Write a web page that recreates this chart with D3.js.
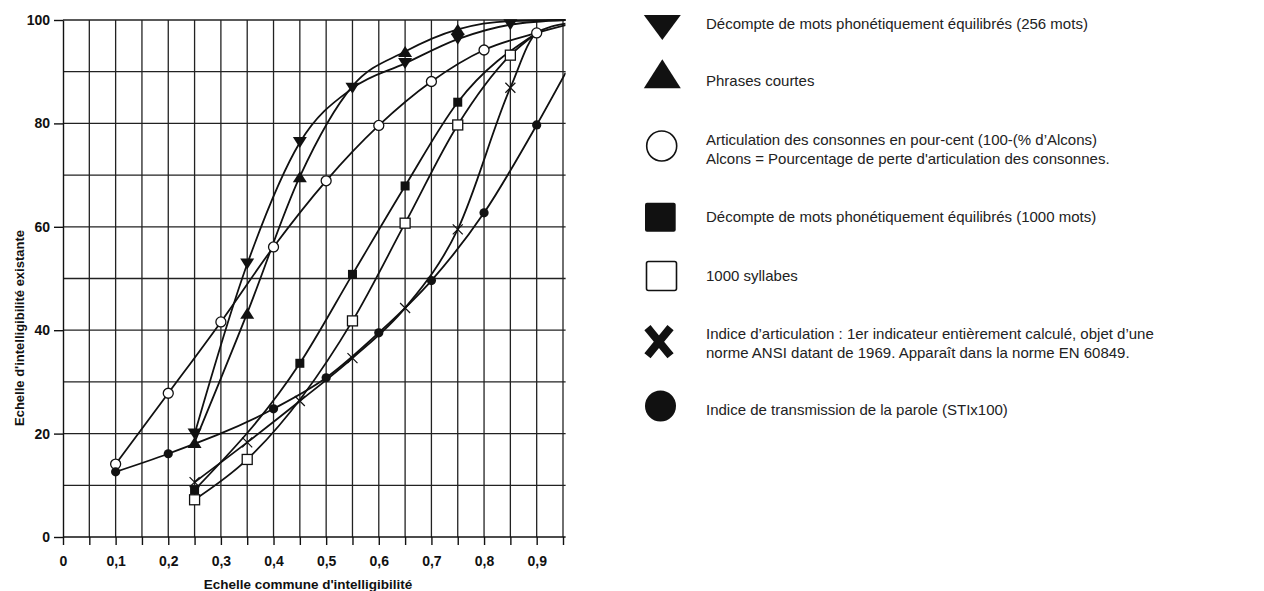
<!DOCTYPE html>
<html><head><meta charset="utf-8">
<script src="https://cdn.jsdelivr.net/npm/d3@7"></script>
<style>
html,body{margin:0;padding:0;background:#fff;}
svg{display:block;font-family:"Liberation Sans",Arial,sans-serif;}
</style></head>
<body>
<svg id="chart" width="1264" height="591"></svg>
<script>
// ---------- DATA ----------
const xTicks = [0,0.05,0.1,0.15,0.2,0.25,0.3,0.35,0.4,0.45,0.5,0.55,0.6,0.65,0.7,0.75,0.8,0.85,0.9,0.95];
const yTicks = [0,20,40,60,80,100];
const yGrid = [10,20,30,40,50,60,70,80,90,100];
const xTitle = "Echelle commune d'intelligibilité";
const yTitle = "Echelle d'intelligibilité existante";

// Décompte de mots phonétiquement équilibrés (256 mots) – down triangles
const mots256X = [0.25,0.35,0.45,0.55,0.65,0.75,0.85];
const mots256Y = [19.9,52.8,76.3,86.8,91.6,96.3,99.1];
const mots256LineX = [0.955];
const mots256LineY = [100];

// Phrases courtes – up triangles
const phrasesX = [0.25,0.35,0.45,0.65,0.75];
const phrasesY = [18.3,43.3,69.7,93.9,98.2];
const phrasesLineX = [0.55,0.85,0.955];
const phrasesLineY = [87.2,99.8,100];

// Articulation des consonnes – open circles
const consX = [0.1,0.2,0.3,0.4,0.5,0.6,0.7,0.8,0.9];
const consY = [14.1,27.8,41.6,56.1,68.9,79.6,88.1,94.2,97.5];
const consLineX = [0.955];
const consLineY = [99];

// Décompte de mots (1000 mots) – filled squares
const mots1000X = [0.25,0.45,0.55,0.65,0.75];
const mots1000Y = [9.1,33.6,50.8,67.9,84.1];
const mots1000LineX = [0.9];
const mots1000LineY = [97.5];

// 1000 syllabes – open squares
const syllX = [0.25,0.35,0.55,0.65,0.75,0.85];
const syllY = [7.2,15,41.8,60.7,79.7,93.2];
const syllLineX = [0.9];
const syllLineY = [97.5];

// Indice d'articulation – crosses
const artX = [0.25,0.35,0.45,0.55,0.65,0.75,0.85];
const artY = [10.6,18.3,26.3,34.6,44.3,59.5,86.9];
const artLineX = [0.9,0.955];
const artLineY = [97.5,99.3];

// STI x100 – filled circles
const stiX = [0.1,0.2,0.4,0.5,0.6,0.7,0.8,0.9];
const stiY = [12.6,16.1,24.8,30.8,39.5,49.6,62.7,79.7];
const stiLineX = [0.955];
const stiLineY = [89.8];

const legendLabels = [
  ["Décompte de mots phonétiquement équilibrés (256 mots)"],
  ["Phrases courtes"],
  ["Articulation des consonnes en pour-cent (100-(% d’Alcons)","Alcons = Pourcentage de perte d'articulation des consonnes."],
  ["Décompte de mots phonétiquement équilibrés (1000 mots)"],
  ["1000 syllabes"],
  ["Indice d’articulation : 1er indicateur entièrement calculé, objet d’une","norme ANSI datant de 1969. Apparaît dans la norme EN 60849."],
  ["Indice de transmission de la parole (STIx100)"]
];

// ---------- BUILD ----------
function zip(xs, ys){ return xs.map((x,i)=>({x, y: ys[i]})); }
const series = [
  {m:"down",   pts: zip(mots256X,mots256Y),  extra: zip(mots256LineX,mots256LineY)},
  {m:"up",     pts: zip(phrasesX,phrasesY),  extra: zip(phrasesLineX,phrasesLineY)},
  {m:"ocirc",  pts: zip(consX,consY),        extra: zip(consLineX,consLineY)},
  {m:"fsq",    pts: zip(mots1000X,mots1000Y),extra: zip(mots1000LineX,mots1000LineY)},
  {m:"osq",    pts: zip(syllX,syllY),        extra: zip(syllLineX,syllLineY)},
  {m:"cross",  pts: zip(artX,artY),          extra: zip(artLineX,artLineY)},
  {m:"fcirc",  pts: zip(stiX,stiY),          extra: zip(stiLineX,stiLineY)}
];

const svg = d3.select("#chart");
const x = d3.scaleLinear().domain([0,0.95]).range([63,563]);
const y = d3.scaleLinear().domain([0,100]).range([537,20]);
const xEnd = 0.955;
const gridColor = "#222";

// grid
const g = svg.append("g");
g.selectAll(".vg").data(xTicks.filter(d=>d>0)).join("line")
  .attr("x1",d=>x(d)).attr("x2",d=>x(d)).attr("y1",y(0)).attr("y2",y(100))
  .attr("stroke",gridColor).attr("stroke-width",1.3);
g.selectAll(".hg").data(yGrid).join("line")
  .attr("x1",x(0)).attr("x2",x(xEnd)).attr("y1",d=>y(d)).attr("y2",d=>y(d))
  .attr("stroke",gridColor).attr("stroke-width",1.3);

// axes
const loc = d3.formatLocale({decimal:",",thousands:" ",grouping:[3],currency:["","€"]});
const fx = loc.format(".2~f");
const xAxis = d3.axisBottom(x).tickValues(xTicks).tickSize(8).tickPadding(11).tickSizeOuter(0)
  .tickFormat(d => (Math.round(d*100)%10===0 && d<0.95) ? fx(d) : "");
const xa = svg.append("g").attr("transform",`translate(0,${y(0)})`).call(xAxis);
xa.select(".domain").attr("d",`M${x(0)},0H${x(xEnd)}`);
const yAxis = d3.axisLeft(y).tickValues(yTicks).tickSize(9).tickPadding(4).tickSizeOuter(0);
const ya = svg.append("g").attr("transform",`translate(${x(0)},0)`).call(yAxis);
[xa,ya].forEach(a=>{
  a.selectAll("line,path").attr("stroke","#111").attr("stroke-width",1.4);
  a.selectAll("text").attr("font-size",14).attr("font-weight","bold").attr("fill","#111")
   .attr("font-family","'Liberation Sans',Arial,sans-serif");
});

svg.append("text").attr("x",308).attr("y",589).attr("text-anchor","middle")
  .attr("font-size",13.5).attr("font-weight","bold").attr("fill","#111").text(xTitle);
svg.append("text").attr("transform","translate(24,328) rotate(-90)").attr("text-anchor","middle")
  .attr("font-size",13).attr("font-weight","bold").attr("fill","#111").text(yTitle);

// lines
svg.append("clipPath").attr("id","clip").append("rect")
  .attr("x",x(0)).attr("y",14).attr("width",x(xEnd)-x(0)).attr("height",530);
const line = d3.line().x(d=>x(d.x)).y(d=>y(d.y)).curve(d3.curveMonotoneX);
const lg = svg.append("g").attr("clip-path","url(#clip)");
series.forEach(s=>{
  const all = s.pts.concat(s.extra).sort((a,b)=>a.x-b.x);
  lg.append("path").attr("d",line(all)).attr("fill","none")
    .attr("stroke","#111").attr("stroke-width",1.8);
});

// markers
function tri(w,h,dir){
  return dir==="up" ? `M0,${-h/2}L${w/2},${h/2}L${-w/2},${h/2}Z`
                    : `M${-w/2},${-h/2}L${w/2},${-h/2}L0,${h/2}Z`;
}
function drawMarker(sel, m, s){
  if(m==="down"||m==="up"){
    sel.append("path").attr("d",tri(14*s,11*s,m)).attr("fill","#111");
  } else if(m==="ocirc"){
    sel.append("circle").attr("r",5*s).attr("fill","#fff").attr("stroke","#111").attr("stroke-width",1.3);
  } else if(m==="fcirc"){
    sel.append("circle").attr("r",4.6*s).attr("fill","#111");
  } else if(m==="fsq"){
    sel.append("rect").attr("x",-4.5*s).attr("y",-4.5*s).attr("width",9*s).attr("height",9*s).attr("fill","#111");
  } else if(m==="osq"){
    sel.append("rect").attr("x",-5*s).attr("y",-5*s).attr("width",10*s).attr("height",10*s)
      .attr("fill","#fff").attr("stroke","#111").attr("stroke-width",1.3);
  } else if(m==="cross"){
    const a=5*s;
    sel.append("path").attr("d",`M${-a},${-a}L${a},${a}M${a},${-a}L${-a},${a}`)
      .attr("stroke","#111").attr("stroke-width",1.2).attr("fill","none");
  }
}
const mg = svg.append("g");
series.forEach(s=>{
  s.pts.forEach(p=>{
    const gg = mg.append("g").attr("transform",`translate(${x(p.x)},${y(p.y)})`);
    drawMarker(gg, s.m, 1);
  });
});

// ---------- LEGEND ----------
const L = svg.append("g");
const ink = "#111";
L.append("path").attr("transform","translate(662.3,27.5)").attr("d",tri(37,25,"down")).attr("fill",ink);
L.append("path").attr("transform","translate(662.3,73.8)").attr("d",tri(37,29,"up")).attr("fill",ink);
L.append("circle").attr("cx",661.7).attr("cy",146).attr("r",15).attr("fill","#fff").attr("stroke",ink).attr("stroke-width",1.6);
L.append("rect").attr("x",645).attr("y",202.7).attr("width",30.7).attr("height",29).attr("rx",2).attr("fill",ink);
L.append("rect").attr("x",646.5).attr("y",261.5).attr("width",30).attr("height",29).attr("rx",2)
  .attr("fill","#fff").attr("stroke",ink).attr("stroke-width",1.6);
L.append("path").attr("transform","translate(659,341.7)").attr("d","M-9,-11L9,11M9,-11L-9,11")
  .attr("stroke",ink).attr("stroke-width",8).attr("stroke-linecap","square").attr("fill","none");
L.append("circle").attr("cx",660.5).attr("cy",406).attr("r",15.5).attr("fill",ink);

const textY = [[24],[81],[139.7,159],[217],[275.5],[334,353],[410]];
legendLabels.forEach((lines,i)=>{
  lines.forEach((t,j)=>{
    L.append("text").attr("x",706).attr("y",textY[i][j]).attr("dy","0.36em")
      .attr("font-size",15).attr("fill","#222").text(t);
  });
});
</script>
</body></html>
